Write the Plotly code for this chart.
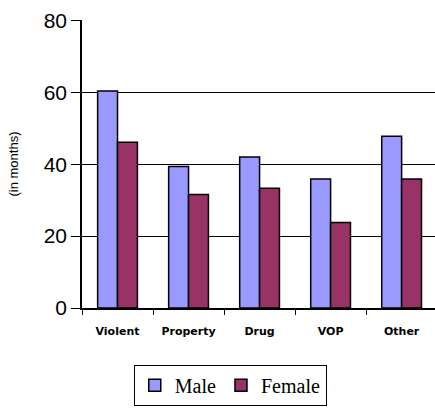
import plotly.graph_objects as go

categories = ["Violent", "Property", "Drug", "VOP", "Other"]
male = [60.4, 39.4, 42.0, 35.9, 47.8]
female = [46.1, 31.6, 33.3, 23.8, 35.9]
y_ticks = [0, 20, 40, 60, 80]

fig = go.Figure()
fig.add_trace(go.Bar(x=categories, y=male, name="Male",
                     marker=dict(color="#9999FF", line=dict(color="black", width=1.5))))
fig.add_trace(go.Bar(x=categories, y=female, name="Female",
                     marker=dict(color="#993366", line=dict(color="black", width=1.5))))

fig.update_layout(
    width=435, height=410,
    margin=dict(l=82, r=0, t=20, b=102, autoexpand=False),
    paper_bgcolor="white", plot_bgcolor="white",
    barmode="group", bargap=0.44, bargroupgap=0,
    showlegend=True,
    legend=dict(orientation="h", x=0.42, xanchor="center", y=-0.197, yanchor="top",
                bordercolor="black", borderwidth=1,
                font=dict(family="Liberation Serif", size=20, color="black"),
                itemwidth=30, traceorder="normal", tracegroupgap=0),
    xaxis=dict(type="category", tickson="boundaries", ticks="outside", ticklen=5,
               tickcolor="black", showline=True, linecolor="black", linewidth=1.5,
               range=[-0.5, 4.47], showgrid=False, automargin=False,
               tickfont=dict(family="DejaVu Sans", size=11, color="black", weight="bold"),
               ticklabelstandoff=12),
    yaxis=dict(range=[0, 80.15], tickvals=y_ticks, ticks="outside", ticklen=9,
               tickcolor="black", showline=True, linecolor="black", linewidth=1.5,
               showgrid=True, gridcolor="black", gridwidth=1.2, zeroline=False,
               automargin=False,
               tickfont=dict(family="Liberation Sans", size=21, color="black"),
               title=dict(text="(in months)", font=dict(family="Liberation Sans", size=13, color="black"),
                          standoff=22)),
)

fig.write_html("out.html", config={"displayModeBar": False},
               post_script="document.body.style.margin='0';")
